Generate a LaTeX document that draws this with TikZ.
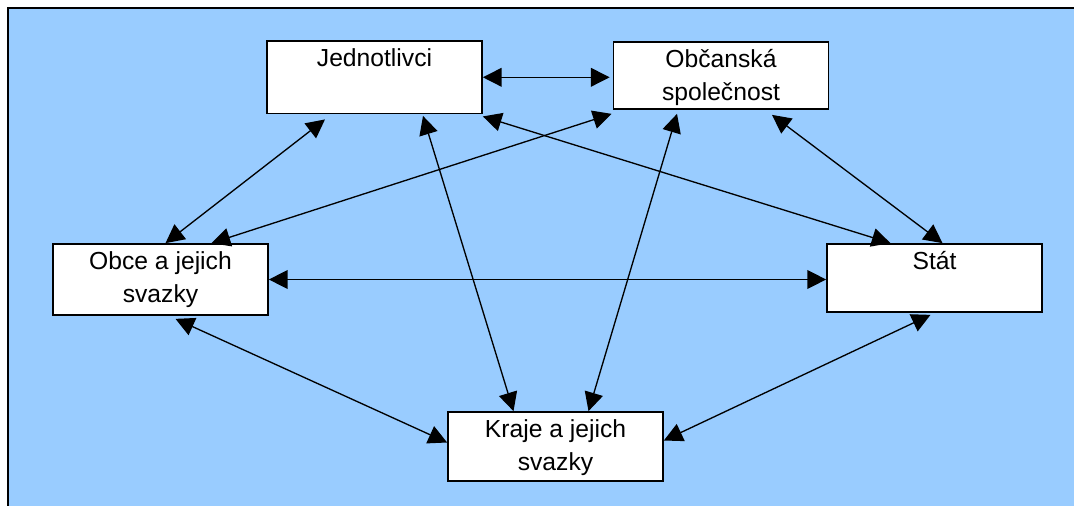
\documentclass[tikz,border=0pt]{standalone}
\usepackage{fontspec}
\setmainfont{Liberation Sans}
\usetikzlibrary{arrows.meta,calc}

\definecolor{panelblue}{RGB}{153,204,255}
\newcommand{\firstline}{\rule{0pt}{18pt}}

\tikzset{every picture/.style={line width=0.75pt}}
\tikzset{
	block/.style={draw, fill=white, line width=1.3pt, minimum width=161.25pt, inner sep=0pt},
	blocktext/.style={anchor=north, align=center, inner sep=1.5pt, font=\fontsize{18.5}{24.75}\selectfont},
	link/.style={{Triangle[length=14pt,width=14pt]}-{Triangle[length=14pt,width=14pt]}, line width=1pt}
}

\begin{document}
\begin{tikzpicture}[x=0.75pt,y=0.75pt,yscale=-1,xscale=1]
		\useasboundingbox (0,0) rectangle (1074,506);
		
		%Shape: Panel
		\fill[panelblue] (8,8) rectangle (1074,506);
		\draw[line width=1.5pt] (8,506) -- (8,8) -- (1074,8);
		
		%Shape: Rectangle
		\node[block, minimum height=54.4pt, label={[blocktext]north:\firstline Jednotlivci}] (jed) at (374.5,77.3) {};
		%Shape: Rectangle
		\node[block, minimum height=50.25pt, label={[blocktext]north:\firstline Občanská\\společnost}] (obc) at (721,75.5) {};
		%Shape: Rectangle
		\node[block, minimum height=53.25pt, label={[blocktext]north:\firstline Obce a jejich\\svazky}] (obce) at (160.5,279.5) {};
		%Shape: Rectangle
		\node[block, minimum height=51pt, label={[blocktext]north:\firstline Stát}] (stat) at (934.5,278) {};
		%Shape: Rectangle
		\node[block, minimum height=51.75pt, label={[blocktext]north:\firstline Kraje a jejich\\svazky}] (kraje) at (555.5,446.5) {};
		
		\draw[link] (jed.east) -- ($(jed.east -| obc.west)+(-3,0)$);
		\draw[link] ($(jed.south)+(-49.5,5)$) -- ($(obce.north)+(5,0)$);
		\draw[link] ($(obc.south west)+(-1,4)$) -- ($(obce.north)+(51,0)$);
		\draw[link] ($(jed.south east)+(0,2)$) -- ($(stat.north)+(-44,0)$);
		\draw[link] ($(jed.south)+(48.5,1.5)$) -- ($(kraje.north)+(-42,0)$);
		\draw[link] ($(obc.south)+(-44,4)$) -- ($(kraje.north)+(33,0)$);
		\draw[link] ($(obc.south)+(51,5)$) -- ($(stat.north)+(8,0)$);
		\draw[link] (obce.east) -- (obce.east -| stat.west);
		\draw[link] ($(obce.south)+(15,3)$) -- ($(kraje.west)+(0,-4)$);
		\draw[link] ($(stat.south)+(-4,2)$) -- ($(kraje.east)+(0,-6)$);
		
	\end{tikzpicture}
\end{document}
